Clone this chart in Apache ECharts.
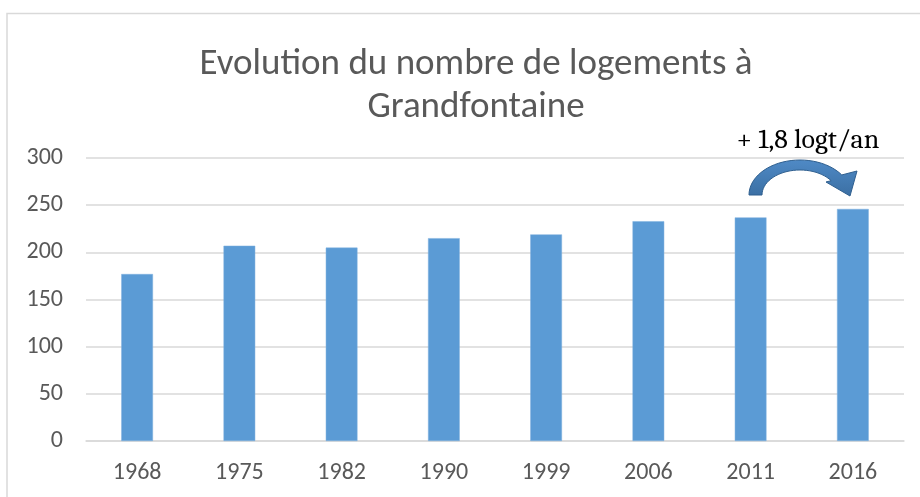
<!DOCTYPE html>
<html><head><meta charset="utf-8">
<script src="https://cdn.jsdelivr.net/npm/echarts@6/dist/echarts.min.js"></script>
<style>html,body{margin:0;padding:0;background:#fff}#c{width:920px;height:497px}</style>
</head><body><div id="c"></div>
<script>
const categories = ['1968','1975','1982','1990','1999','2006','2011','2016'];
const logements = [177, 207, 205, 215, 219, 233, 237, 246];
const yTicks = [0, 50, 100, 150, 200, 250, 300];
const titleText = 'Evolution du nombre de logements à\nGrandfontaine';
const annotText = '+ 1,8 logt/an';

// curved arrow (annotation shape)
function arrowPoints(){
  const cx=800, cy=195, orx=51, ory=35, irx=38, iry=25, end=35;
  const pts=[];
  for(let a=180;a>=end;a-=5){const r=a*Math.PI/180;pts.push([cx+orx*Math.cos(r),cy-ory*Math.sin(r)]);}
  pts.push([857,171],[850,196],[826,182]);
  for(let a=end;a<=180;a+=5){const r=a*Math.PI/180;pts.push([cx+irx*Math.cos(r),cy-iry*Math.sin(r)]);}
  return pts;
}

const FONT = 'Carlito, Calibri, "Open Sans", "Liberation Sans", sans-serif';
const chart = echarts.init(document.getElementById('c'), null, {renderer:'canvas'});
chart.setOption({
  animation:false,
  backgroundColor:'#fff',
  title:{text:titleText,left:471,top:38,textAlign:'center',
    textStyle:{fontFamily:FONT,fontSize:37,fontWeight:'normal',color:'#595959',lineHeight:43}},
  grid:{left:86,right:16,top:158,bottom:56,containLabel:false},
  xAxis:{type:'category',data:categories,
    axisLine:{lineStyle:{color:'#d9d9d9',width:1.5}},axisTick:{show:false},
    axisLabel:{color:'#595959',fontFamily:FONT,fontSize:24,margin:20}},
  yAxis:{type:'value',min:yTicks[0],max:yTicks[yTicks.length-1],interval:50,
    axisLine:{show:false},axisTick:{show:false},
    splitLine:{lineStyle:{color:'#d9d9d9',width:1.5}},
    axisLabel:{color:'#595959',fontFamily:FONT,fontSize:24,margin:23}},
  series:[{type:'bar',data:logements,barWidth:'31%',
    itemStyle:{color:'#5b9bd5',borderColor:'#7fb0df',borderWidth:0.5}}],
  graphic:[
    {type:'rect',shape:{x:7,y:13.5,width:940,height:520},silent:true,
      style:{fill:null,stroke:'#d9d9d9',lineWidth:1.5},z:-1},
    {type:'text',x:808,y:140,style:{text:annotText,fontFamily:'Caladea, Cambria, "Liberation Serif", "DejaVu Serif", serif',
      fontSize:28,fill:'#000',align:'center',verticalAlign:'middle'}},
    {type:'polygon',shape:{points:arrowPoints()},
      style:{fill:new echarts.graphic.LinearGradient(0,0,0,1,[{offset:0,color:'#4f8ac6'},{offset:1,color:'#3b6fa3'}]),
        stroke:'#2f5f8f',lineWidth:1}}
  ]
});
</script></body></html>
